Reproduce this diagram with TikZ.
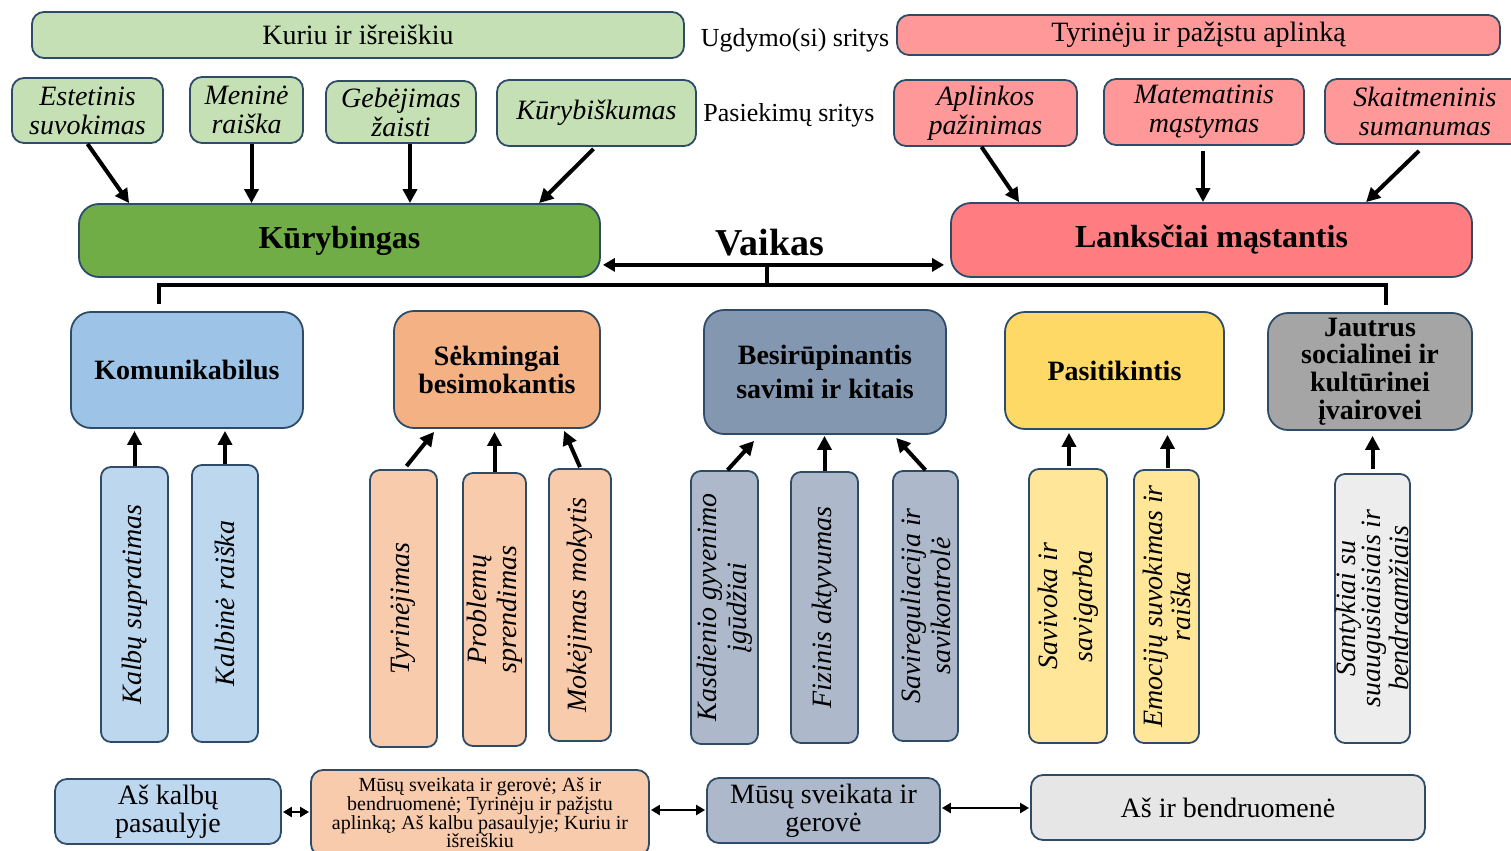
\documentclass[tikz,border=0pt]{standalone}
\usepackage{fontspec}
\setmainfont{Liberation Serif}
\usepackage{tikz}
\usetikzlibrary{arrows.meta,calc,positioning}

\definecolor{rim}{RGB}{46,76,104}
\definecolor{lgreen}{HTML}{C5E0B4}
\definecolor{green}{HTML}{70AD47}
\definecolor{lpink}{HTML}{FF9999}
\definecolor{red}{HTML}{FF7C80}
\definecolor{blue}{HTML}{9DC3E6}
\definecolor{lblue}{HTML}{BDD7EE}
\definecolor{orange}{HTML}{F4B183}
\definecolor{lorange}{HTML}{F8CBAD}
\definecolor{slate}{HTML}{8497B0}
\definecolor{lslate}{HTML}{ADB9CA}
\definecolor{gold}{HTML}{FFD966}
\definecolor{lgold}{HTML}{FFE699}
\definecolor{gray}{HTML}{A5A5A5}
\definecolor{lgray}{HTML}{EDEDED}

\tikzset{
  box/.style={draw=rim, line width=0.9pt, rounded corners=6pt, align=center, inner sep=0pt,
    font=\fontsize{14}{14.5}\selectfont},
  ibox/.style={box, font=\fontsize{14}{14.5}\selectfont\itshape},
  bbox/.style={box, rounded corners=10pt, font=\fontsize{14}{14}\selectfont\bfseries},
  vbox/.style={box, rotate=90, rounded corners=5pt, font=\fontsize{14}{15}\selectfont\itshape},
  sz/.style 2 args={minimum width=#1*0.5pt, minimum height=#2*0.5pt},
  arr/.style={line width=2pt, -{Triangle[length=7pt,width=7pt]}},
  dbl/.style={line width=1.4pt, {Triangle[length=4.5pt,width=5pt]}-{Triangle[length=4.5pt,width=5pt]}},
  bar/.style={line width=1.9pt},
}

\begin{document}
\begin{tikzpicture}[x=0.5pt,y=-0.5pt]
    \useasboundingbox (0,0) rectangle (1511,851);
    % ugdymo(si) sritys
    \node[box, fill=lgreen, sz={652}{46}] (kur) at (358,35) {Kuriu ir išreiškiu};
    \node[font=\fontsize{13}{13}\selectfont] (ugd) at (795,40) {Ugdymo(si) sritys};
    \node[box, fill=lpink, sz={603}{40}] (tyr) at (1198.5,35) {Tyrinėju ir pažįstu aplinką};
    % pasiekimu sritys
    \node[ibox, fill=lgreen, sz={151}{65}] (est) at (87.5,110.5) {Estetinis\\ suvokimas};
    \node[ibox, fill=lgreen, sz={113}{66}] (men) at (246.5,110) {Meninė\\ raiška};
    \node[ibox, fill=lgreen, sz={150}{62}] (geb) at (401,112) {Gebėjimas\\ žaisti};
    \node[ibox, fill=lgreen, sz={199}{66}] (kurb) at (596.5,113) {Kūrybiškumas};
    \node[font=\fontsize{13}{13}\selectfont] (pas) at (789,115) {Pasiekimų sritys};
    \node[ibox, fill=lpink, sz={183}{66}] (apl) at (985.5,113) {Aplinkos\\ pažinimas};
    \node[ibox, fill=lpink, sz={200}{66}] (mat) at (1204,112) {Matematinis\\ mąstymas};
    \node[ibox, fill=lpink, sz={200}{65}] (ska) at (1425,111.5) {Skaitmeninis\\ sumanumas};
    % vaikas
    \node[bbox, fill=green, sz={521}{73}, font=\fontsize{16}{16}\selectfont\bfseries] (kurbing) at (339.5,240.5) {Kūrybingas};
    \node[bbox, fill=red, sz={521}{74}, font=\fontsize{16}{16}\selectfont\bfseries] (lank) at (1211.5,240) {Lanksčiai mąstantis};
    \node[font=\fontsize{19}{19}\selectfont\bfseries] (vaik) at (770,243) {Vaikas};
    \draw[arr] (est.south) -- ($(kurbing.north west)+(51,0)$);
    \draw[arr] ($(men.south)+(5,0)$) -- ($(men.south |- kurbing.north)+(5,0)$);
    \draw[arr] ($(geb.south)+(9,0)$) -- ($(geb.south |- kurbing.north)+(9,0)$);
    \draw[arr] ($(kurb.south)+(-3,2)$) -- ($(kurbing.north west)+(461,0)$);
    \draw[arr] ($(apl.south)+(-4,0)$) -- ($(lank.north west)+(69,0)$);
    \draw[arr] ($(mat.south)+(-1,5)$) -- ($(mat.south |- lank.north)+(-1,0)$);
    \draw[arr] ($(ska.south)+(-6,6)$) -- ($(lank.north west)+(416,0)$);
    \coordinate (vl) at ($(kurbing.south east)+(2,-13)$);
    \coordinate (vr) at ($(lank.south west)+(-6,-13)$);
    \coordinate (hub) at (767,285);
    \draw[line width=2pt, {Triangle[length=6pt,width=6.5pt]}-{Triangle[length=6pt,width=6.5pt]}] (vl) -- (vr);
    \draw[bar] (hub |- vl) -- (hub);
    % kompetencijos
    \node[bbox, fill=blue, sz={232}{116}] (kom) at (187,370) {Komunikabilus};
    \node[bbox, fill=orange, sz={206}{117}] (sek) at (497,369.5) {Sėkmingai\\ besimokantis};
    \node[bbox, fill=slate, sz={242}{124}, font=\fontsize{14}{17}\selectfont\bfseries] (bes) at (825,372) {Besirūpinantis\\ savimi ir kitais};
    \node[bbox, fill=gold, sz={219}{117}] (pasit) at (1114.5,370.5) {Pasitikintis};
    \node[bbox, fill=gray, sz={204}{117}, font=\fontsize{14}{13.8}\selectfont\bfseries] (jaut) at (1370,371.5) {Jautrus\\ socialinei ir\\ kultūrinei\\ įvairovei};
    \draw[bar] ($(kom.north west)+(89,-7)$) |- (hub) -| ($(jaut.north west)+(119,-7)$);
    % pasiekimai
    \node[vbox, fill=lblue, sz={275}{67}] (kal1) at (134.5,604.5) {Kalbų supratimas};
    \node[vbox, fill=lblue, sz={277}{66}] (kal2) at (225,603.5) {Kalbinė raiška};
    \node[vbox, fill=lorange, sz={277}{67}] (tyri) at (403.5,608.5) {Tyrinėjimas};
    \node[vbox, fill=lorange, sz={273}{63}] (prob) at (494.5,609.5) {Problemų\\ sprendimas};
    \node[vbox, fill=lorange, sz={272}{62}] (mok) at (580,605) {Mokėjimas mokytis};
    \node[vbox, fill=lslate, sz={273}{67}] (kas) at (724.5,607.5) {Kasdienio gyvenimo\\ įgūdžiai};
    \node[vbox, fill=lslate, sz={271}{67}] (fiz) at (824.5,607.5) {Fizinis aktyvumas};
    \node[vbox, fill=lslate, sz={270}{65}] (sav) at (925.5,606) {Savireguliacija ir\\ savikontrolė};
    \node[vbox, fill=lgold, sz={274}{78}, font=\fontsize{14}{17.5}\selectfont\itshape] (svk) at (1068,606) {Savivoka ir\\ savigarba};
    \node[vbox, fill=lgold, sz={273}{65}, font=\fontsize{14}{14}\selectfont\itshape] (emo) at (1166.5,606.5) {Emocijų suvokimas ir\\ raiška};
    \node[vbox, fill=lgray, sz={269}{75}, font=\fontsize{14}{12.5}\selectfont\itshape] (san) at (1372.5,608.5) {Santykiai su\\ suaugusiaisiais ir\\ bendraamžiais};
    \draw[arr] (kal1.east) -- ($(kal1.east |- kom.south)+(0,2)$);
    \draw[arr] (kal2.east) -- ($(kal2.east |- kom.south)+(0,2)$);
    \draw[arr] ($(tyri.east)+(3,-3)$) -- ($(sek.south west)+(41,3)$);
    \draw[arr] (prob.east) -- ($(prob.east |- sek.south)+(0,3)$);
    \draw[arr] ($(mok.east)+(0,-1)$) -- ($(sek.south west)+(171,2)$);
    \draw[arr] ($(kas.east)+(3,0)$) -- ($(bes.south west)+(51,6)$);
    \draw[arr] (fiz.east) -- ($(fiz.east |- bes.south)+(0,1)$);
    \draw[arr] ($(sav.east)+(0,0)$) -- ($(bes.south west)+(193,3)$);
    \draw[arr] ($(svk.east)+(1,-2)$) -- ($(svk.east |- pasit.south)+(1,3)$);
    \draw[arr] ($(emo.east)+(1,-1)$) -- ($(emo.east |- pasit.south)+(1,5)$);
    \draw[arr] ($(san.east)+(0,-4)$) -- ($(san.east |- jaut.south)+(0,5)$);
    % ugdymo turinys
    \node[box, fill=lblue, sz={226}{65}, font=\fontsize{14}{14}\selectfont] (askal) at (168,811.5) {Aš kalbų\\ pasaulyje};
    \node[box, fill=lorange, sz={338}{86}, font=\fontsize{10}{9.3}\selectfont] (visi) at (480,813) {Mūsų sveikata ir gerovė; Aš ir\\ bendruomenė; Tyrinėju ir pažįstu\\ aplinką; Aš kalbu pasaulyje; Kuriu ir\\ išreiškiu};
    \node[box, fill=lslate, sz={233}{65}, font=\fontsize{14}{14}\selectfont] (musu) at (823.5,810.5) {Mūsų sveikata ir\\ gerovė};
    \node[box, fill=lgray!90!gray, sz={394}{65}] (asir) at (1228,807.5) {Aš ir bendruomenė};
    \draw[dbl] ($(askal.east)+(1,0.5)$) -- ($(askal.east -| visi.west)+(-1,0.5)$);
    \draw[dbl] ($(visi.east)+(1,-3)$) -- ($(visi.east -| musu.west)+(-1,-3)$);
    \draw[dbl] ($(musu.east)+(1,-2.5)$) -- ($(musu.east -| asir.west)+(-1,-2.5)$);
\end{tikzpicture}
\end{document}
